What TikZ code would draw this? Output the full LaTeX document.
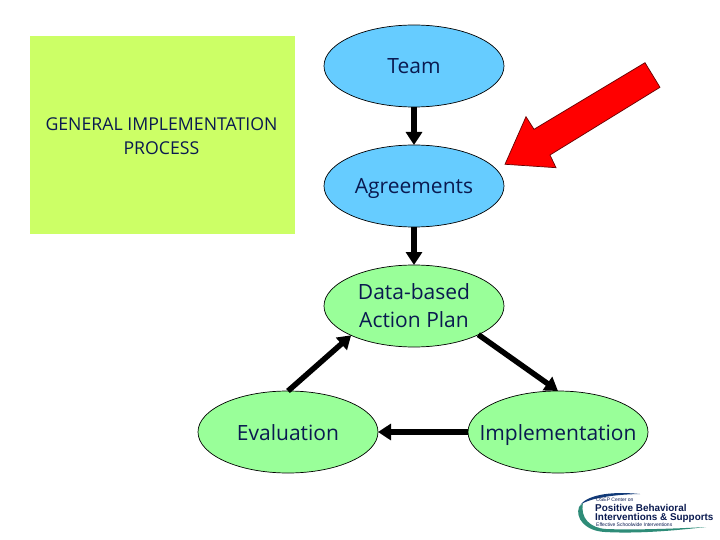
\documentclass[tikz,border=0pt]{standalone}
\usepackage{fontspec}
\setmainfont{Open Sans}
\newfontfamily\logofont{Liberation Sans}
\definecolor{inkblue}{HTML}{0A1A50}
\definecolor{skyfill}{HTML}{66CCFF}
\definecolor{mintfill}{HTML}{99FF99}
\definecolor{limefill}{HTML}{CCFF66}
\definecolor{redfill}{HTML}{FF0000}
\definecolor{swooshblue}{HTML}{123A78}
\definecolor{swooshgreen}{HTML}{2E8C78}
\usetikzlibrary{shapes.geometric,arrows.meta}
\tikzset{
  oval/.style={ellipse,draw=black,line width=0.7pt,minimum width=180pt,minimum height=82pt,inner sep=0pt,outer sep=0pt,text=inkblue,font=\fontsize{21}{28}\selectfont,align=center},
  oneline/.style={text height=18pt,text depth=2pt},
  blueoval/.style={oval,fill=skyfill},
  greenoval/.style={oval,fill=mintfill},
  flow/.style={draw=black,line width=5.5pt,-{Triangle[length=13pt,width=16pt]}},
  logotext/.style={anchor=west,inner sep=0pt,text=inkblue}
}
\begin{document}
\begin{tikzpicture}[x=1pt,y=-1pt]
\useasboundingbox (0,0) rectangle (720,540);
\fill[white] (0,0) rectangle (720,540);
\node[fill=limefill,minimum width=265pt,minimum height=198pt,inner sep=0pt,anchor=north west] (box) at (30,36) {};
\node[text=inkblue,font=\fontsize{17.7}{24}\selectfont,align=center] (boxlabel) at (161.5,136) {GENERAL IMPLEMENTATION\\PROCESS};
\node[blueoval,oneline] (team) at (414,66) {Team};
\node[blueoval,oneline] (agr) at (414,186) {Agreements};
\node[greenoval] (plan) at (414,306) {Data-based\\Action Plan};
\node[greenoval,oneline] (eval) at (288,432) {Evaluation};
\node[greenoval,oneline] (impl) at (558,432) {\makebox[0pt][c]{Implementation}};
\draw[flow] (team.south) -- (agr.north);
\draw[flow] (agr.south) -- (plan.north);
\draw[flow] (plan.-24) -- (impl.north);
\draw[flow] (impl.west) -- (eval.east);
\draw[flow] (eval.north) -- (plan.205);
\draw[fill=redfill,draw=black!60!red,line width=0.7pt] (505,164.3) -- (526,116.7) -- (534,129.3) -- (645,62.7) -- (660,87.3) -- (550,155) -- (556,167.7) -- cycle;
\fill[swooshblue] (640,494) .. controls (610,491) and (585,495) .. (579,507) .. controls (582,500) and (608,494.5) .. (640,494) -- cycle;
\fill[swooshgreen] (579,507) .. controls (575,518) and (585,531) .. (605,532) .. controls (640,534) and (680,530) .. (706,527) .. controls (670,529) and (630,530) .. (606,529) .. controls (590,528) and (580,518) .. (583,503) -- cycle;
\node[logotext,font=\logofont\fontsize{5}{5}\selectfont] (l1) at (596,499.5) {OSEP Center on};
\node[logotext,font=\logofont\bfseries\fontsize{9.9}{10}\selectfont] (l2) at (595,508) {Positive Behavioral};
\node[logotext,font=\logofont\bfseries\fontsize{9.9}{10}\selectfont] (l3) at (595,517.5) {Interventions \& Supports};
\node[logotext,font=\logofont\fontsize{5}{5}\selectfont] (l4) at (596,525) {Effective Schoolwide Interventions};
\end{tikzpicture}
\end{document}
